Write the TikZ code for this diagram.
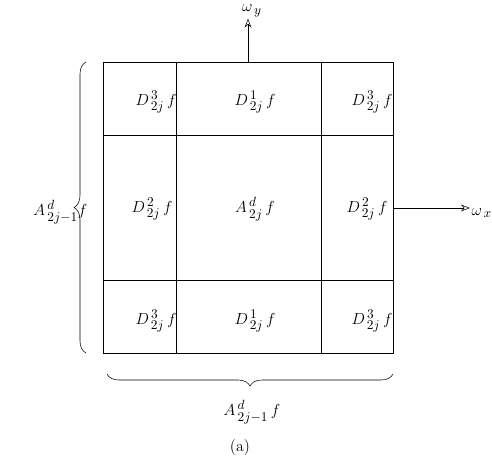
\documentclass[tikz,border=0pt]{standalone}
\usepackage{amsmath,amssymb}
\usepackage{tikz}
\usetikzlibrary{arrows.meta,positioning,decorations.pathreplacing}
\DeclareMathSizes{12}{12}{10}{8}

\begin{document}
\begin{tikzpicture}[
    x=0.75pt, y=-0.75pt,
    cell/.style={font=\large, inner sep=1pt},
    band/.style={line width=0.6pt},
    arr/.style={-{Stealth[length=2.4mm, width=1.8mm, open]}, thin},
    brc/.style={decorate, decoration={brace, amplitude=9pt}, thin}
]
\useasboundingbox (0,0) rectangle (492,462);

% Frequency plane
\draw[thin] (103,62) rectangle (393,353);
\draw[band] (176,62) rectangle (321,353);
\draw[band] (103,135) rectangle (393,280);

% Sub-bands
\node[cell] (d3tl) at (156,102) {$D^{\,3}_{\,2j}\,f$};
\node[cell] (d1t)  at (255,102) {$D^{\,1}_{\,2j}\,f$};
\node[cell] (d3tr) at (372,102) {$D^{\,3}_{\,2j}\,f$};
\node[cell] (d2l)  at (152,209) {$D^{\,2}_{\,2j}\,f$};
\node[cell] (ad)   at (255,209) {$A^{\,d}_{\,2j}\,f$};
\node[cell] (d2r)  at (367,209) {$D^{\,2}_{\,2j}\,f$};
\node[cell] (d3bl) at (156,321) {$D^{\,3}_{\,2j}\,f$};
\node[cell] (d1b)  at (255,321) {$D^{\,1}_{\,2j}\,f$};
\node[cell] (d3br) at (372,321) {$D^{\,3}_{\,2j}\,f$};

% Axes
\coordinate (ytop) at (248,62);
\coordinate (xright) at (393,208);
\node[cell] (wy) at (252,11) {$\omega_{\,y}$};
\node[cell, anchor=west] (wx) at (470,213) {$\omega_{\,x}$};
\draw[arr] (ytop) -- (wy.south -| ytop);
\draw[arr] (xright) -- (wx.west |- xright);

% Braces
\coordinate (lb) at (86,353);
\coordinate (lt) at (86,62);
\draw[brc] (lb) -- (lt);
\node[cell, anchor=east] (aleft) at (89,212) {$A^{\,d}_{\,2j-1}f$};

\coordinate (br) at (393,374);
\coordinate (bl) at (107,374);
\draw[brc] (br) -- (bl);
\node[cell] (abot) at (252,412) {$A^{\,d}_{\,2j-1}\,f$};
\node[cell] (cap) at (240,447) {(a)};
\end{tikzpicture}
\end{document}
